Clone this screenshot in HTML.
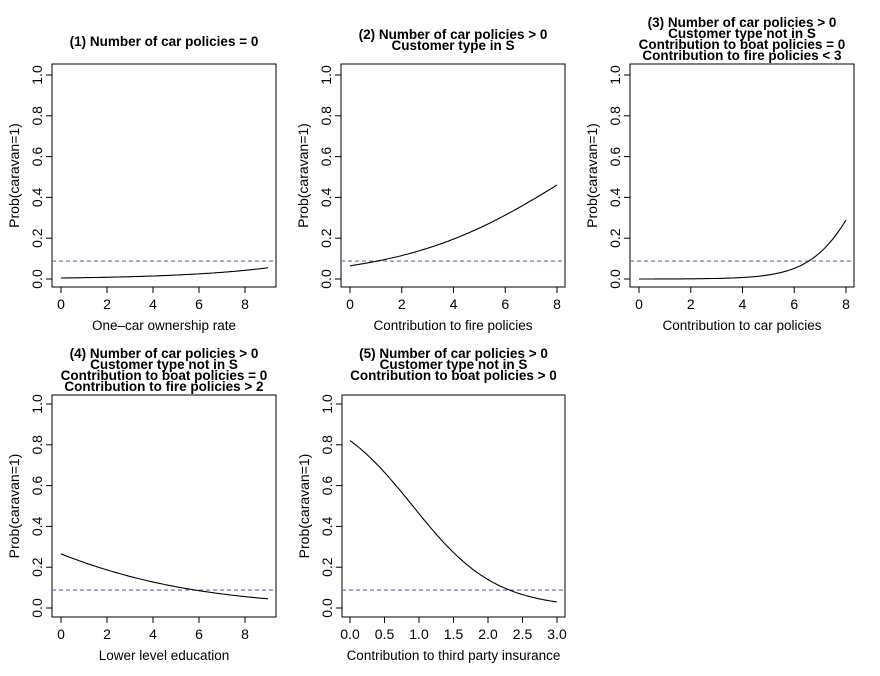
<!DOCTYPE html><html><head><meta charset="utf-8"><style>body{margin:0;background:#fff}svg{display:block}text{font-family:"Liberation Sans",Arial,sans-serif;fill:#000}</style></head><body>
<svg id="s" width="880" height="676" xmlns="http://www.w3.org/2000/svg"></svg>
<script>
const S=document.getElementById('s');let h='';
const P=[
{bx:52,by:64,bb:287,br:276,x0:61,xu:23,xmax:9,ticks:[0,2,4,6,8],lab:['0','2','4','6','8'],a:-5.29,b:0.272,title:['(1) Number of car policies = 0'],xl:'One\u2013car ownership rate'},
{bx:341,by:64,bb:287,br:565,x0:350,xu:25.875,xmax:8,ticks:[0,2,4,6,8],lab:['0','2','4','6','8'],a:-2.67,b:0.314,title:['(2) Number of car policies > 0','Customer type in S'],xl:'Contribution to fire policies'},
{bx:630,by:64,bb:287,br:854,x0:639,xu:25.875,xmax:8,ticks:[0,2,4,6,8],lab:['0','2','4','6','8'],a:-8.9,b:1.0,title:['(3) Number of car policies > 0','Customer type not in S','Contribution to boat policies = 0','Contribution to fire policies < 3'],xl:'Contribution to car policies'},
{bx:52,by:395,bb:617,br:276,x0:61,xu:23,xmax:9,ticks:[0,2,4,6,8],lab:['0','2','4','6','8'],a:-1.02,b:-0.226,title:['(4) Number of car policies > 0','Customer type not in S','Contribution to boat policies = 0','Contribution to fire policies > 2'],xl:'Lower level education'},
{bx:342,by:395,bb:617,br:565,x0:350,xu:69,xmax:3,ticks:[0,0.5,1,1.5,2,2.5,3],lab:['0.0','0.5','1.0','1.5','2.0','2.5','3.0'],a:1.52,b:-1.67,title:['(5) Number of car policies > 0','Customer type not in S','Contribution to boat policies > 0'],xl:'Contribution to third party insurance'}];
P.forEach((p,i)=>{
 const row2=i>2;const y0=row2?608:279,yu=204;const Y=v=>y0-v*yu,X=v=>p.x0+v*p.xu;
 h+=`<rect x="${p.bx}" y="${p.by}" width="${p.br-p.bx}" height="${p.bb-p.by}" fill="none" stroke="#000" stroke-width="1"/>`;
 p.ticks.forEach((t,k)=>{const x=X(t);h+=`<line x1="${x}" y1="${p.bb}" x2="${x}" y2="${p.bb+6}" stroke="#000"/><text x="${x}" y="${p.bb+22}" font-size="14" text-anchor="middle">${p.lab[k]}</text>`;});
 h+=`<line x1="${X(0)}" y1="${p.bb}" x2="${X(p.ticks[p.ticks.length-1])}" y2="${p.bb}" stroke="#000"/>`;
 [0,0.2,0.4,0.6,0.8,1].forEach(v=>{const y=Y(v);h+=`<line x1="${p.bx-6}" y1="${y}" x2="${p.bx}" y2="${y}" stroke="#000"/><text transform="translate(${p.bx-10},${y}) rotate(-90)" font-size="14" text-anchor="middle">${v.toFixed(1)}</text>`;});
 const cy=(p.by+p.bb)/2;h+=`<text transform="translate(${p.bx-33},${cy}) rotate(-90)" font-size="14" text-anchor="middle">Prob(caravan=1)</text>`;
 h+=`<text x="${(p.bx+p.br)/2}" y="${p.bb+43}" font-size="13.5" text-anchor="middle">${p.xl}</text>`;
 const cx=(p.bx+p.br)/2;const n=p.title.length;const base=row2?358:(n==1?46:(n==2?39:27));
 p.title.forEach((t,k)=>{h+=`<text x="${cx}" y="${base+k*11}" font-size="13.5" font-weight="bold" text-anchor="middle">${t.replace(/</g,'&lt;').replace(/>/g,'&gt;')}</text>`;});
 h+=`<line x1="${p.bx}" y1="${Y(0.088)}" x2="${p.br}" y2="${Y(0.088)}" stroke="#6a6aa8" stroke-width="1.2" stroke-dasharray="4,3"/>`;
 let d='';for(let j=0;j<=100;j++){const x=p.xmax*j/100;const v=1/(1+Math.exp(-(p.a+p.b*x)));d+=(j?'L':'M')+X(x).toFixed(1)+','+Y(v).toFixed(1);}
 h+=`<path d="${d}" fill="none" stroke="#000" stroke-width="1.1"/>`;
});
S.innerHTML=h;
</script></body></html>
